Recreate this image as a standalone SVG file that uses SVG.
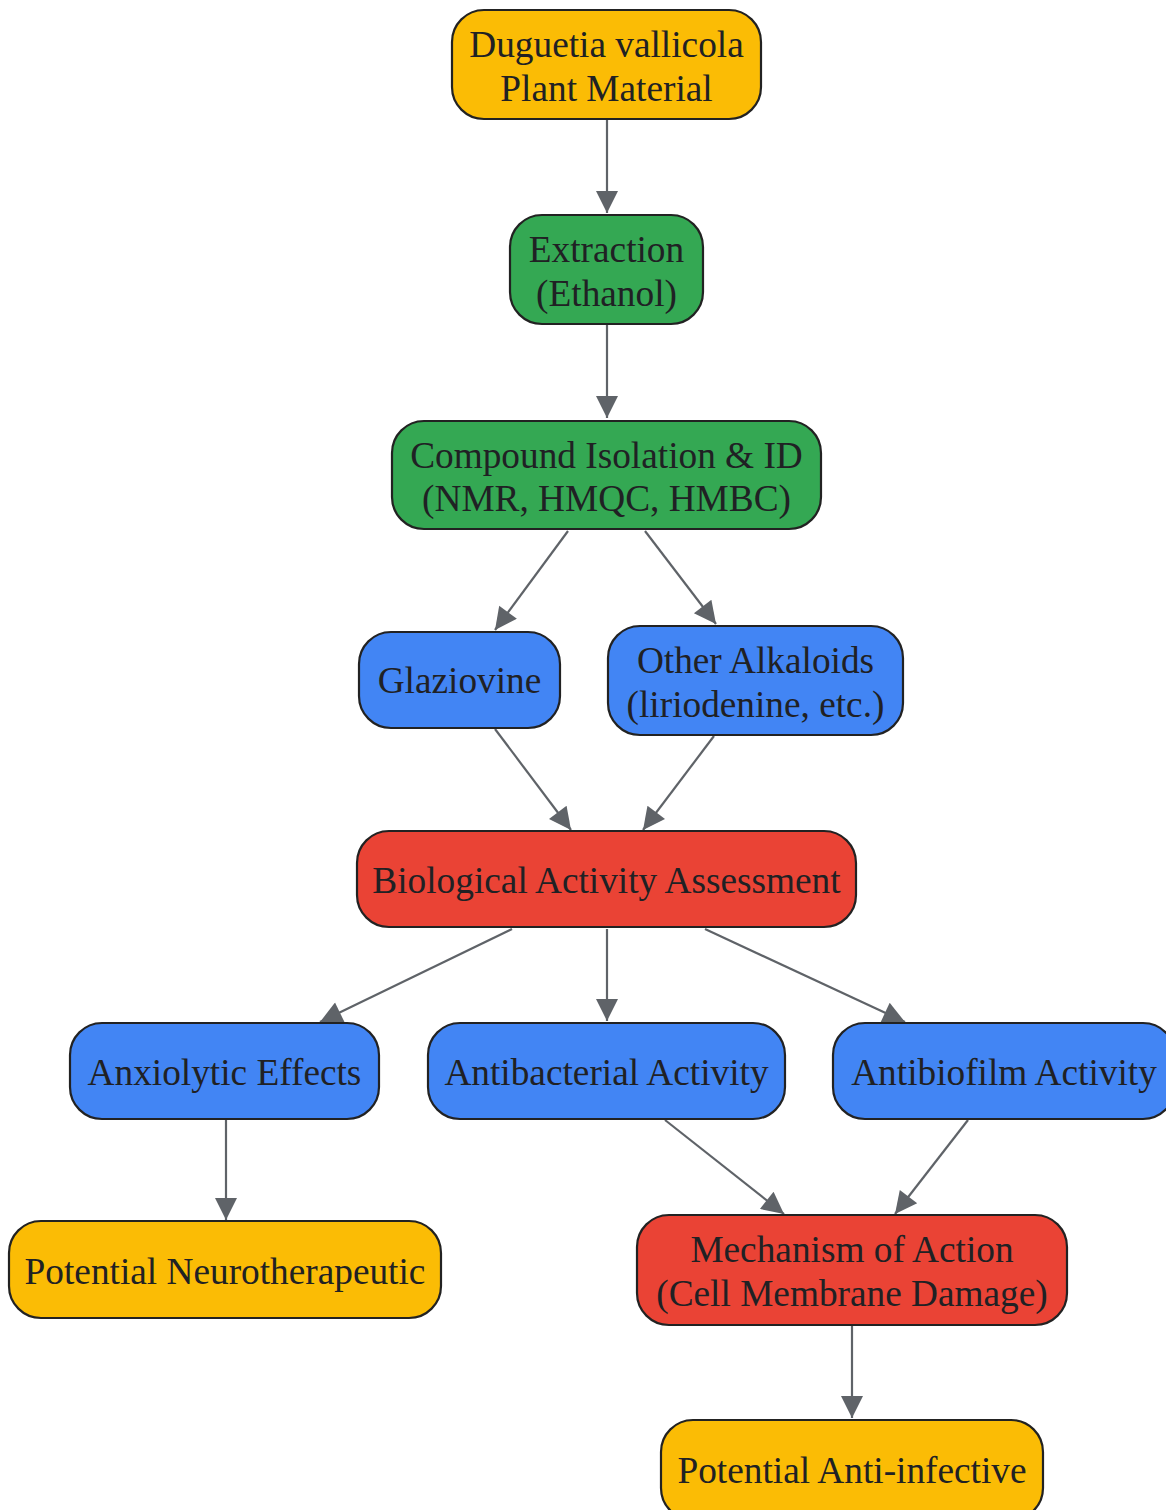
<svg xmlns="http://www.w3.org/2000/svg" width="1166" height="1510" viewBox="0 0 1166 1510">
<defs>
<marker id="ah" viewBox="0 0 10 10" refX="10" refY="5" markerWidth="30" markerHeight="22" markerUnits="userSpaceOnUse" orient="auto">
<path d="M0,0 L10,5 L0,10 Z" fill="#5f6368"/>
</marker>
<style>
.n rect{stroke:#222;stroke-width:2.2}
.y rect{fill:#FBBC05}.g rect{fill:#34A853}.b rect{fill:#4285F4}.r rect{fill:#EA4335}
text{font-family:"Liberation Serif","Times New Roman",serif;font-size:37.3px;fill:#202124;text-anchor:middle}
#edges line{stroke:#5f6368;stroke-width:2.2;marker-end:url(#ah)}
</style>
</defs>
<rect width="1166" height="1510" fill="#fff"/>
<g id="edges">
<line x1="607" y1="120" x2="607" y2="213"/>
<line x1="607" y1="325" x2="607" y2="418"/>
<line x1="568" y1="531" x2="495" y2="630"/>
<line x1="645" y1="531" x2="716" y2="624"/>
<line x1="495" y1="729" x2="571" y2="830"/>
<line x1="714" y1="736" x2="643" y2="830"/>
<line x1="512" y1="929" x2="320" y2="1022"/>
<line x1="607" y1="929" x2="607" y2="1021"/>
<line x1="705" y1="929" x2="905" y2="1022"/>
<line x1="226" y1="1120" x2="226" y2="1220"/>
<line x1="665" y1="1120" x2="784" y2="1214"/>
<line x1="968" y1="1120" x2="895" y2="1214"/>
<line x1="852" y1="1326" x2="852" y2="1418"/>
</g>
<g id="n1" class="n y"><rect x="452" y="10" width="309" height="109" rx="32"/><text x="606.5" y="57">Duguetia vallicola</text><text x="606.5" y="101">Plant Material</text></g>
<g id="n2" class="n g"><rect x="510" y="215" width="193" height="109" rx="32"/><text x="606.5" y="262">Extraction</text><text x="606.5" y="306">(Ethanol)</text></g>
<g id="n3" class="n g"><rect x="392" y="421" width="429" height="108" rx="32"/><text x="606.5" y="468">Compound Isolation &amp; ID</text><text x="606.5" y="511">(NMR, HMQC, HMBC)</text></g>
<g id="n4" class="n b"><rect x="359" y="632" width="201" height="96" rx="32"/><text x="459.5" y="693">Glaziovine</text></g>
<g id="n5" class="n b"><rect x="608" y="626" width="295" height="109" rx="32"/><text x="755.5" y="673">Other Alkaloids</text><text x="755.5" y="717">(liriodenine, etc.)</text></g>
<g id="n6" class="n r"><rect x="357" y="831" width="499" height="96" rx="32"/><text x="606.5" y="893">Biological Activity Assessment</text></g>
<g id="n7" class="n b"><rect x="70" y="1023" width="309" height="96" rx="32"/><text x="224.5" y="1085">Anxiolytic Effects</text></g>
<g id="n8" class="n b"><rect x="428" y="1023" width="357" height="96" rx="32"/><text x="606.5" y="1085">Antibacterial Activity</text></g>
<g id="n9" class="n b"><rect x="833" y="1023" width="342" height="96" rx="32"/><text x="1004" y="1085">Antibiofilm Activity</text></g>
<g id="n10" class="n y"><rect x="9" y="1221" width="432" height="97" rx="32"/><text x="225" y="1284">Potential Neurotherapeutic</text></g>
<g id="n11" class="n r"><rect x="637" y="1215" width="430" height="110" rx="32"/><text x="852" y="1262">Mechanism of Action</text><text x="852" y="1306">(Cell Membrane Damage)</text></g>
<g id="n12" class="n y"><rect x="661" y="1420" width="382" height="100" rx="32"/><text x="852" y="1483">Potential Anti-infective</text></g>
</svg>
